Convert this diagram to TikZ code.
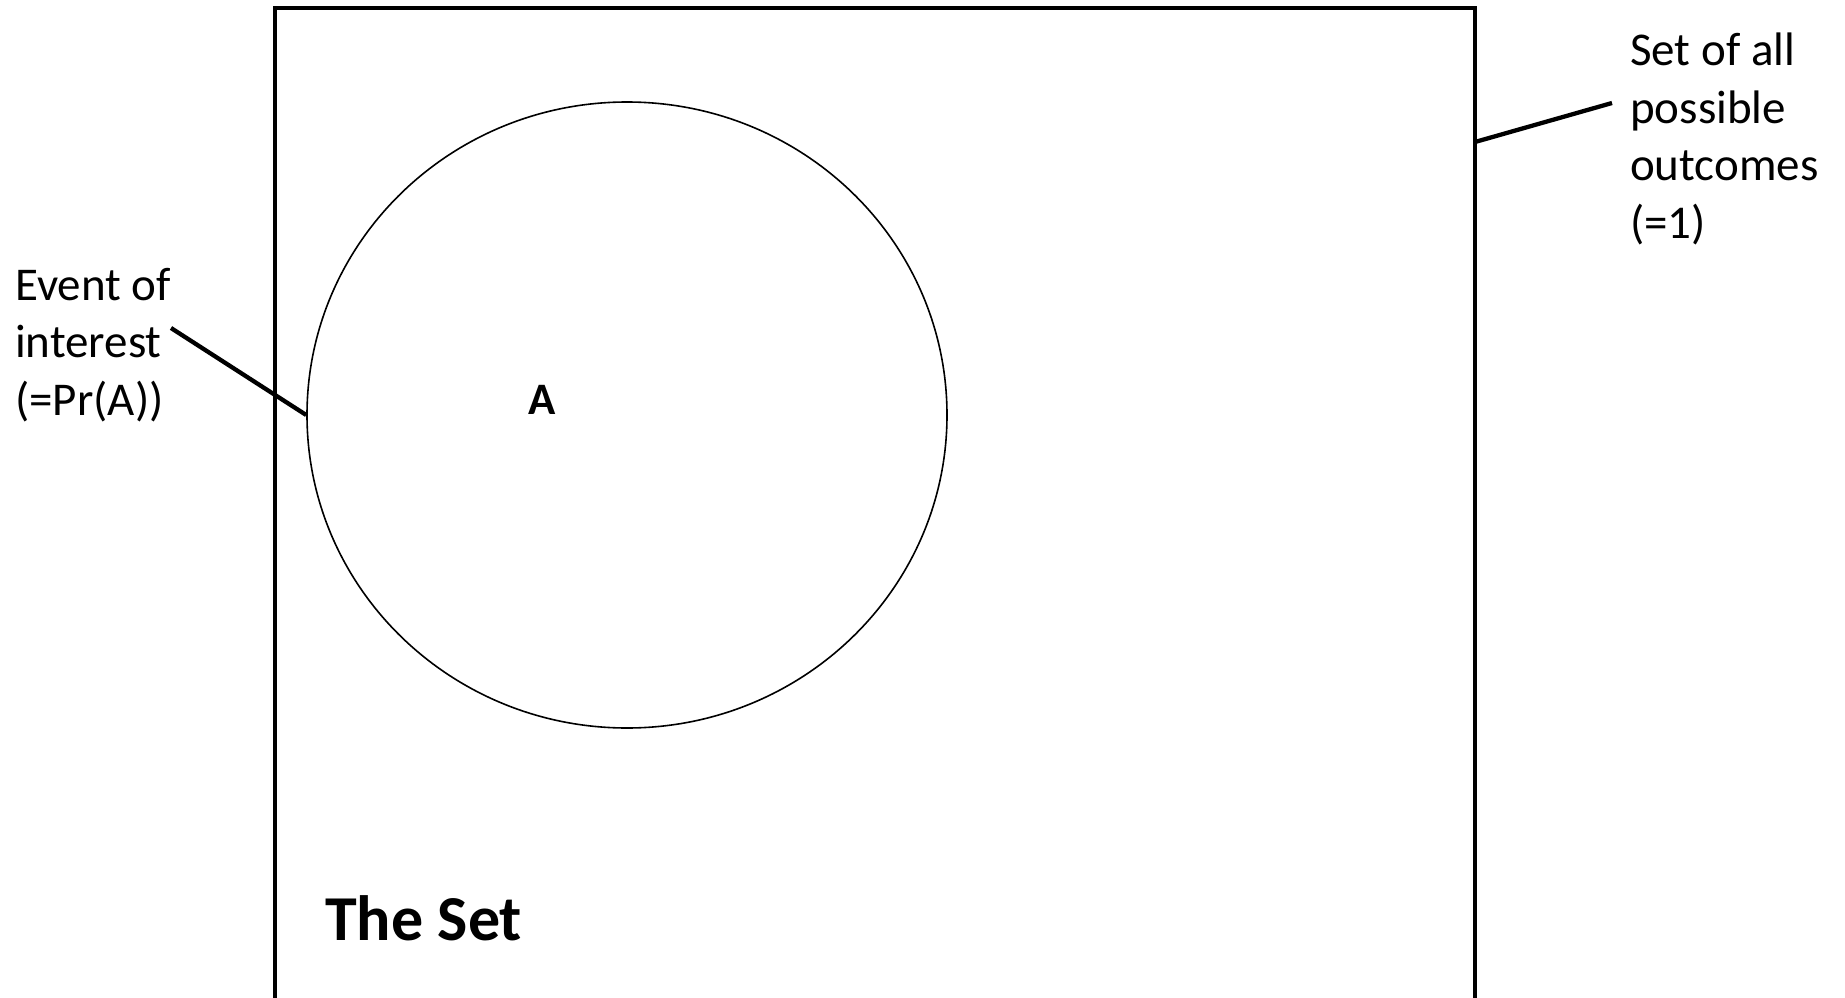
\documentclass[tikz,border=0pt]{standalone}
\usepackage{fontspec}
\setmainfont{Carlito}
\usetikzlibrary{shapes.geometric}
\begin{document}
\begin{tikzpicture}[x=1pt,y=-1pt,
  lbl/.style={inner sep=0pt, anchor=base west, align=left, font=\fontsize{47}{57.5}\selectfont},
  thick line/.style={line width=4.3pt},
  thin line/.style={line width=1.6pt}]
\useasboundingbox (0,0) rectangle (1845,998);
\clip (0,0) rectangle (1845,998);
% outer set
\draw[thick line] (275,1020) -- (275,8) -- (1475,8) -- (1475,1020);
% event circle
\node[draw, thin line, ellipse, minimum width=640pt, minimum height=626pt, inner sep=0pt] (circ) at (627,415) {};
\node[inner sep=0pt, anchor=base, font=\fontsize{45}{54}\selectfont\bfseries] (a) at (542,414) {A};
\node[inner sep=0pt, anchor=base west, font=\fontsize{64}{76}\selectfont\bfseries] (set) at (325,940) {The Set};
% labels (base anchor = baseline of last line)
\node[lbl] (ev) at (15,415) {Event of\\interest\\(=Pr(A))};
\node[lbl] (all) at (1630,238) {Set of all\\possible\\outcomes\\(=1)};
\coordinate (evend) at (171,328);
\coordinate (allend) at (1612,103);
\coordinate (rectpt) at (1475,142);
\draw[thick line] (evend) -- (circ.west);
\draw[thick line] (rectpt) -- (allend);
\end{tikzpicture}
\end{document}
